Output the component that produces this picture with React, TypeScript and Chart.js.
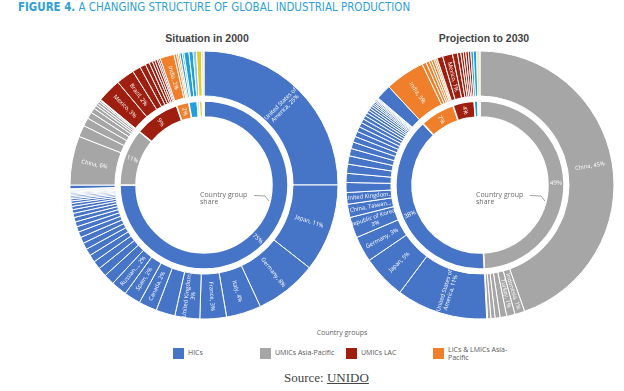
import React, { useEffect, useRef } from "react";
import { Chart, registerables } from "chart.js";

Chart.register(...registerables);

// ---------- colours ----------
const palette: Record<string, string> = {
  HIC: "#4674c6",
  UAP: "#a6a6a6",
  ULAC: "#9e1f10",
  LAP: "#ef7f2a",
  OTH1: "#1f9fdb",
  OTH2: "#8ac8ec",
  OTH3: "#e2cb2e",
  OTH4: "#efe7bd",
};

// ---------- legend ----------
const legendTitle = "Country groups";
const legendKeys = ["HIC", "UAP", "ULAC", "LAP"];
const legendLabels = ["HICs", "UMICs Asia-Pacific", "UMICs LAC", "LICs & LMICs Asia-\nPacific"];

// ---------- Situation in 2000 ----------
const groupOrder2000 = ["HIC", "UAP", "ULAC", "LAP", "OTH1", "OTH2", "OTH3", "OTH4"];
const groupShare2000 = [75.0, 11.0, 8.7, 2.4, 1.6, 0.4, 0.6, 0.3];
const groupLabels2000 = ["75%", "11%", "9%", "2%"];

const hic2000 = [25.0, 10.6, 7.5, 4.2, 3.2, 3.0, 2.3, 2.2, 2.0, 1.9, 1.3, 1.1, 1.0, 0.9, 0.85, 0.8, 0.75, 0.7, 0.65, 0.6, 0.55, 0.5, 0.45, 0.4, 0.35, 0.3, 0.25, 0.2, 0.2, 0.15, 0.15, 0.1, 0.1, 0.1, 0.1, 0.1, 0.45];
const hic2000Labels = ["United States of\nAmerica, 25%", "Japan, 11%", "Germany, 8%", "Italy, 4%", "France, 3%", "United Kingdom,\n3%", "", "Canada, 2%", "Spain, 2%", "Russian..., 2%"];
const uap2000 = [5.9, 1.4, 1.0, 0.8, 0.6, 0.4, 0.3, 0.3, 0.2, 0.1];
const uap2000Labels = ["China, 6%"];
const ulac2000 = [2.9, 2.2, 1.0, 0.7, 0.5, 0.4, 0.3, 0.3, 0.2, 0.2];
const ulac2000Labels = ["Mexico, 3%", "Brazil, 2%"];
const lap2000 = [1.7, 0.3, 0.2, 0.2];
const lap2000Labels = ["India, 2%"];
const oth1_2000 = [0.3, 0.2, 0.6, 0.5];
const oth2_2000 = [0.4];
const oth3_2000 = [0.6];
const oth4_2000 = [0.3];

// ---------- Projection to 2030 ----------
const groupOrder2030 = ["UAP", "HIC", "LAP", "ULAC", "OTH1", "OTH4"];
const groupShare2030 = [49.2, 38.9, 6.7, 4.1, 0.7, 0.4];
const groupLabels2030 = ["49%", "38%", "7%", "4%"];

const uap2030 = [44.6, 1.2, 1.0, 0.8, 0.6, 0.5, 0.4, 0.1];
const uap2030Labels = ["China, 45%", "Indonesia, 1%", "Turkey, 1%"];
const hic2030 = [11.0, 5.3, 3.1, 2.5, 1.6, 1.4, 1.2, 1.1, 1.1, 1.0, 0.9, 0.8, 0.7, 0.65, 0.6, 0.55, 0.5, 0.45, 0.4, 0.35, 0.3, 0.3, 0.25, 0.2, 0.2, 0.15, 0.15, 0.1, 0.1, 0.1, 1.85];
const hic2030Labels = ["United States of\nAmerica, 11%", "Japan, 5%", "Germany, 3%", "Republic of Korea,\n3%", "China, Taiwan...", "United Kingdom..."];
const lap2030 = [4.8, 0.5, 0.4, 0.3, 0.3, 0.2, 0.2];
const lap2030Labels = ["India, 5%"];
const ulac2030 = [0.7, 1.2, 0.6, 0.4, 0.3, 0.3, 0.3, 0.3];
const ulac2030Labels = ["", "Mexico, 1%"];
const oth1_2030 = [0.3, 0.4];
const oth4_2030 = [0.4];

type Part = { key: string; values: number[]; labels?: string[] };

function buildOuter(parts: Part[]) {
  const data: number[] = [];
  const colors: string[] = [];
  const labels: string[] = [];
  parts.forEach((p) => {
    p.values.forEach((v, i) => {
      data.push(v);
      colors.push(palette[p.key]);
      labels.push((p.labels && p.labels[i]) || "");
    });
  });
  return { data, colors, labels };
}

const segLabelPlugin = {
  id: "segLabels",
  afterDatasetsDraw(chart: any) {
    const ctx = chart.ctx;
    chart.data.datasets.forEach((ds: any, di: number) => {
      const labels: string[] | undefined = ds.segLabels;
      if (!labels) return;
      const meta = chart.getDatasetMeta(di);
      meta.data.forEach((arc: any, i: number) => {
        const text = labels[i];
        if (!text) return;
        const p = arc.getProps(["x", "y", "startAngle", "endAngle", "innerRadius", "outerRadius"], true);
        const a = (p.startAngle + p.endAngle) / 2;
        const r = (p.innerRadius + p.outerRadius) / 2;
        const px = p.x + Math.cos(a) * r;
        const py = p.y + Math.sin(a) * r;
        let theta = a + Math.PI / 2;
        theta = ((theta % (2 * Math.PI)) + 2 * Math.PI) % (2 * Math.PI);
        const rot = theta < Math.PI ? a : a + Math.PI;
        ctx.save();
        ctx.translate(px, py);
        ctx.rotate(rot);
        ctx.font = ds.segFont || '5.8px "Open Sans"';
        ctx.fillStyle = "#ffffff";
        ctx.textAlign = "center";
        ctx.textBaseline = "middle";
        const lines = text.split("\n");
        const lh = 6.5;
        lines.forEach((l, k) => ctx.fillText(l, 0, (k - (lines.length - 1) / 2) * lh));
        ctx.restore();
      });
    });
  },
};

const centerNotePlugin = {
  id: "centerNote",
  afterDraw(chart: any) {
    const { left, right, top, bottom } = chart.chartArea;
    const cx = (left + right) / 2;
    const cy = (top + bottom) / 2;
    const ctx = chart.ctx;
    ctx.save();
    ctx.font = '7px "Open Sans"';
    ctx.fillStyle = "#6b6b6b";
    ctx.textAlign = "left";
    ctx.textBaseline = "middle";
    ctx.fillText("Country group", cx - 4, cy + 9.5);
    ctx.fillText("share", cx - 4, cy + 16.5);
    ctx.strokeStyle = "#8a8a8a";
    ctx.lineWidth = 0.8;
    ctx.beginPath();
    ctx.moveTo(cx + 50, cy + 10.5);
    ctx.lineTo(cx + 61, cy + 11);
    ctx.lineTo(cx + 65, cy + 16);
    ctx.stroke();
    ctx.restore();
  },
};

function Donut(props: {
  left: number;
  top: number;
  groupOrder: string[];
  groupShare: number[];
  groupLabels: string[];
  parts: Part[];
}) {
  const ref = useRef<HTMLCanvasElement | null>(null);
  useEffect(() => {
    if (!ref.current) return;
    const outer = buildOuter(props.parts);
    const chart = new Chart(ref.current, {
      type: "doughnut",
      data: {
        datasets: [
          {
            data: outer.data,
            backgroundColor: outer.colors,
            borderColor: "#ffffff",
            borderWidth: 1,
            weight: 45,
            segLabels: outer.labels,
          } as any,
          {
            data: [1],
            backgroundColor: "rgba(0,0,0,0)",
            borderWidth: 0,
            weight: 5,
          } as any,
          {
            data: props.groupShare,
            backgroundColor: props.groupOrder.map((k) => palette[k]),
            borderColor: "#ffffff",
            borderWidth: 1.5,
            weight: 16,
            segLabels: props.groupLabels,
            segFont: '6px "Open Sans"',
          } as any,
        ],
      },
      options: {
        animation: false,
        responsive: false,
        radius: 134,
        cutout: "50.75%",
        events: [],
        layout: { padding: 0 },
        plugins: { legend: { display: false }, tooltip: { enabled: false } },
      } as any,
      plugins: [segLabelPlugin, centerNotePlugin],
    });
    return () => chart.destroy();
  }, []);
  return (
    <canvas
      ref={ref}
      width={276}
      height={276}
      style={{ position: "absolute", left: props.left, top: props.top, width: 276, height: 276 }}
    />
  );
}

export default function App() {
  const sans = '"Open Sans", "Liberation Sans", sans-serif';
  return (
    <div
      style={{
        position: "fixed",
        left: 0,
        top: 0,
        width: 624,
        height: 391,
        background: "#ffffff",
        overflow: "hidden",
      }}
    >
      <div
        style={{
          position: "absolute",
          left: 18,
          top: 0,
          fontFamily: '"DejaVu Sans Condensed", sans-serif',
          fontSize: 13,
          lineHeight: "14px",
          color: "#2f9fd8",
          whiteSpace: "nowrap",
          transform: "scaleX(0.88)",
          transformOrigin: "left top",
        }}
      >
        <b>FIGURE 4.</b> A CHANGING STRUCTURE OF GLOBAL INDUSTRIAL PRODUCTION
      </div>
      <div
        style={{
          position: "absolute",
          left: 107,
          width: 200,
          top: 32,
          textAlign: "center",
          fontFamily: '"Liberation Sans", Arial, sans-serif',
          fontWeight: "bold",
          fontSize: 10.5,
          lineHeight: "12px",
          color: "#444",
        }}
      >
        Situation in 2000
      </div>
      <div
        style={{
          position: "absolute",
          left: 384,
          width: 200,
          top: 32,
          textAlign: "center",
          fontFamily: '"Liberation Sans", Arial, sans-serif',
          fontWeight: "bold",
          fontSize: 10.5,
          lineHeight: "12px",
          color: "#444",
        }}
      >
        Projection to 2030
      </div>

      <Donut
        left={66}
        top={47}
        groupOrder={groupOrder2000}
        groupShare={groupShare2000}
        groupLabels={groupLabels2000}
        parts={[
          { key: "HIC", values: hic2000, labels: hic2000Labels },
          { key: "UAP", values: uap2000, labels: uap2000Labels },
          { key: "ULAC", values: ulac2000, labels: ulac2000Labels },
          { key: "LAP", values: lap2000, labels: lap2000Labels },
          { key: "OTH1", values: oth1_2000 },
          { key: "OTH2", values: oth2_2000 },
          { key: "OTH3", values: oth3_2000 },
          { key: "OTH4", values: oth4_2000 },
        ]}
      />
      <Donut
        left={342}
        top={47}
        groupOrder={groupOrder2030}
        groupShare={groupShare2030}
        groupLabels={groupLabels2030}
        parts={[
          { key: "UAP", values: uap2030, labels: uap2030Labels },
          { key: "HIC", values: hic2030, labels: hic2030Labels },
          { key: "LAP", values: lap2030, labels: lap2030Labels },
          { key: "ULAC", values: ulac2030, labels: ulac2030Labels },
          { key: "OTH1", values: oth1_2030 },
          { key: "OTH4", values: oth4_2030 },
        ]}
      />

      <div
        style={{
          position: "absolute",
          left: 292,
          width: 100,
          top: 329,
          textAlign: "center",
          fontFamily: sans,
          fontSize: 7,
          lineHeight: "8px",
          color: "#666",
        }}
      >
        {legendTitle}
      </div>
      {legendKeys.map((k, i) => {
        const xs = [173, 260, 346, 433];
        const lines = legendLabels[i].split("\n");
        return (
          <React.Fragment key={k}>
            <div
              style={{
                position: "absolute",
                left: xs[i],
                top: 348,
                width: 10.5,
                height: 10.5,
                background: palette[k],
              }}
            />
            <div
              style={{
                position: "absolute",
                left: xs[i] + 15,
                top: lines.length > 1 ? 346 : 349,
                fontFamily: sans,
                fontSize: 7,
                lineHeight: "8px",
                color: "#555",
                whiteSpace: "nowrap",
              }}
            >
              {lines.map((l, j) => (
                <div key={j}>{l}</div>
              ))}
            </div>
          </React.Fragment>
        );
      })}
      <div
        style={{
          position: "absolute",
          left: 284,
          top: 370,
          fontFamily: '"Liberation Serif", "DejaVu Serif", serif',
          fontSize: 13,
          lineHeight: "15px",
          color: "#444",
          whiteSpace: "nowrap",
        }}
      >
        Source: <span style={{ textDecoration: "underline" }}>UNIDO</span>
      </div>
    </div>
  );
}
